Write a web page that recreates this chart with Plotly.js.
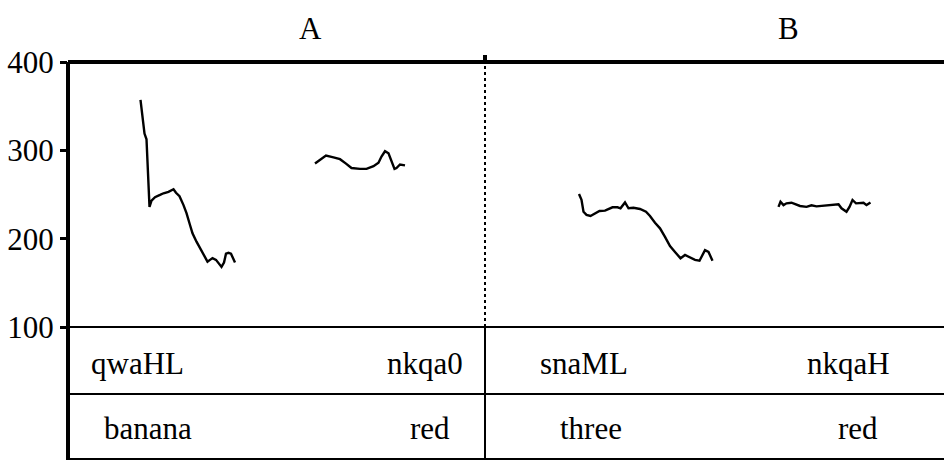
<!DOCTYPE html>
<html>
<head>
<meta charset="utf-8">
<script src="https://cdn.plot.ly/plotly-3.0.1.min.js"></script>
<style>html,body{margin:0;padding:0;background:#fff;}#chart{width:944px;height:460px;}</style>
</head>
<body>
<div id="chart"></div>
<script>
// Pitch contours (time in s, F0 in Hz)
const t1 = [0.145,0.153,0.157,0.163,0.167,0.174,0.184,0.191,0.201,0.211,0.216,0.223,0.231,0.237,0.244,0.249,0.257,0.264,0.269,0.274,0.279,0.284,0.289,0.296,0.303,0.307,0.312,0.316,0.321,0.326,0.334];
const f1 = [357,319,312.5,236,243,247,249.5,251.4,253,256,252,248,238,229,215.5,206,196.6,189,184,178,174,176,178,176,171,168,173,183,184,183,173];
const t2 = [0.494,0.503,0.516,0.531,0.544,0.556,0.567,0.584,0.597,0.611,0.621,0.627,0.634,0.641,0.646,0.653,0.657,0.664,0.674];
const f2 = [285,289,294,292,290,285,280,279,279,282,286,293,299,296.6,289,279,280,284,283];
const t3 = [1.022,1.027,1.031,1.037,1.045,1.054,1.063,1.074,1.089,1.099,1.105,1.114,1.121,1.131,1.144,1.156,1.164,1.174,1.184,1.194,1.204,1.214,1.221,1.225,1.234,1.244,1.254,1.263,1.267,1.274,1.281,1.289];
const f3 = [250.6,244,230.5,227,225.7,229,231.3,231.7,235.5,235.5,234.4,241,234.4,235,233.6,230.5,225.7,218,211.7,202,191.7,185,179.6,177.8,181.5,179,176,175,179,187,185,175];
const t4 = [1.421,1.425,1.431,1.437,1.447,1.457,1.464,1.477,1.487,1.497,1.507,1.517,1.531,1.541,1.547,1.557,1.563,1.569,1.576,1.583,1.591,1.597,1.605];
const f4 = [236,241.8,238,240,240.7,239,237,236,237.8,236.6,237.3,237.3,238.5,239,234.4,230.5,236,243.8,240,240,240.7,238,241];

// Panels and tiers
const panelTitles = ["A","B"];
const panelTitleX = [0.484,1.44];
const boundaryT = [0.834];
const tier1Labels = ["qwaHL","nkqa0","snaML","nkqaH"];
const tier1X = [0.139,0.714,1.032,1.561];
const tier2Labels = ["banana","red","three","red"];
const tier2X = [0.16,0.724,1.046,1.58];
const yTicks = [100,200,300,400];

const serif = "Liberation Serif, Times New Roman, serif";
const lineStyle = {color:"#000", width:2.4};
const traces = [[t1,f1],[t2,f2],[t3,f3],[t4,f4]].map(([x,y]) => ({
  x:x, y:y, type:"scatter", mode:"lines", line:lineStyle, hoverinfo:"skip", showlegend:false
}));

// geometry (paper units): plot domain bottom, tier divider, bottom line
const yDomBottom = 133/398, yTierMid = 66/398, yBottom = 1/398;

const shapes = [
  {type:"line", xref:"paper", yref:"paper", x0:0, x1:0, y0:0, y1:1, line:{color:"#000", width:4}},
  {type:"line", xref:"paper", yref:"paper", x0:0, x1:1, y0:1, y1:1, line:{color:"#000", width:4}},
  {type:"line", xref:"paper", yref:"paper", x0:0, x1:1, y0:yDomBottom, y1:yDomBottom, line:{color:"#000", width:2}},
  {type:"line", xref:"paper", yref:"paper", x0:0, x1:1, y0:yTierMid, y1:yTierMid, line:{color:"#000", width:2}},
  {type:"line", xref:"paper", yref:"paper", x0:0, x1:1, y0:yBottom, y1:yBottom, line:{color:"#000", width:2}}
];
boundaryT.forEach(b => {
  shapes.push({type:"line", xref:"x", yref:"paper", x0:b, x1:b, y0:yDomBottom, y1:1, line:{color:"#000", width:2, dash:"dot"}});
  shapes.push({type:"line", xref:"x", yref:"paper", x0:b, x1:b, y0:0, y1:yDomBottom, line:{color:"#000", width:2}});
  shapes.push({type:"line", xref:"x", yref:"paper", x0:b, x1:b, y0:1, y1:1.0176, line:{color:"#000", width:4}});
});

const annotations = [];
panelTitles.forEach((s,i) => annotations.push({text:s, x:panelTitleX[i], xref:"x", y:1.085, yref:"paper", yanchor:"middle", xanchor:"center", showarrow:false, font:{family:serif, size:31, color:"#000"}}));
tier1Labels.forEach((s,i) => annotations.push({text:s, x:tier1X[i], xref:"x", y:(460-363)/398, yref:"paper", yanchor:"middle", xanchor:"center", showarrow:false, font:{family:serif, size:31, color:"#000"}}));
tier2Labels.forEach((s,i) => annotations.push({text:s, x:tier2X[i], xref:"x", y:(460-428)/398, yref:"paper", yanchor:"middle", xanchor:"center", showarrow:false, font:{family:serif, size:31, color:"#000"}}));

const layout = {
  width:944, height:460,
  margin:{l:68, r:0, t:62, b:0},
  paper_bgcolor:"#fff", plot_bgcolor:"#fff",
  showlegend:false,
  xaxis:{range:[0,1.752], visible:false, fixedrange:true},
  yaxis:{range:[100,400], domain:[yDomBottom,1], tickvals:yTicks, ticktext:yTicks.map(String),
         ticks:"outside", ticklen:7, tickwidth:3, tickcolor:"#000", ticklabelstandoff:0,
         showgrid:false, zeroline:false, showline:false,
         tickfont:{family:serif, size:31, color:"#000"}, fixedrange:true},
  shapes:shapes,
  annotations:annotations
};
Plotly.newPlot("chart", traces, layout, {displayModeBar:false, staticPlot:true});
</script>
</body>
</html>
